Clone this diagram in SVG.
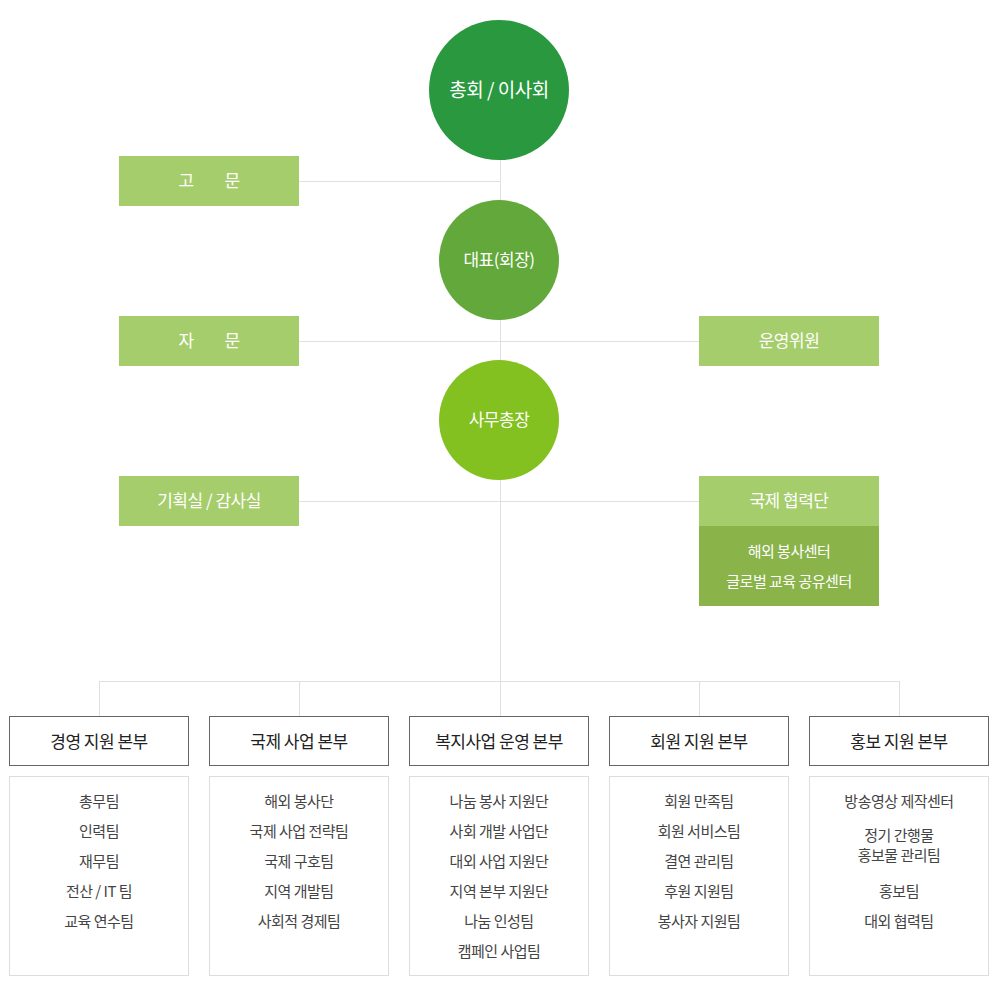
<svg xmlns="http://www.w3.org/2000/svg" width="1000" height="1000" viewBox="0 0 1000 1000">
<style>
text{font-family:"Noto Sans CJK KR","Noto Sans",sans-serif;text-anchor:middle;dominant-baseline:central;letter-spacing:-0.5px}
.w{fill:#fff}
.lt{fill:#a6cd6b}
.dk{fill:#8ab34a}
.ln{stroke:#e0e0e0;stroke-width:1;fill:none}
.hd{fill:#fff;stroke:#666;stroke-width:1}
.bd{fill:#fff;stroke:#ddd;stroke-width:1}
.ht{fill:#222;font-size:17px}
.it{fill:#444;font-size:15px}
.bt{fill:#fff;font-size:17px}
</style>
<g id="connectors">
<line class="ln" x1="500.5" y1="150" x2="500.5" y2="716"/>
<line class="ln" x1="299" y1="181.5" x2="500" y2="181.5"/>
<line class="ln" x1="299" y1="341.5" x2="699" y2="341.5"/>
<line class="ln" x1="299" y1="501.5" x2="699" y2="501.5"/>
<line class="ln" x1="99.5" y1="681.5" x2="899.5" y2="681.5"/>
<line class="ln" x1="99.5" y1="681" x2="99.5" y2="716"/>
<line class="ln" x1="299.5" y1="681" x2="299.5" y2="716"/>
<line class="ln" x1="699.5" y1="681" x2="699.5" y2="716"/>
<line class="ln" x1="899.5" y1="681" x2="899.5" y2="716"/>
</g>
<g id="n-general">
<circle cx="499" cy="90" r="70" fill="#2a983f"/>
<text class="w" x="499" y="88" font-size="19">총회 / 이사회</text>
</g>
<g id="n-ceo">
<circle cx="499" cy="260" r="60" fill="#62a83a"/>
<text class="w" x="499" y="258" font-size="17">대표(회장)</text>
</g>
<g id="n-sec">
<circle cx="499" cy="420" r="60" fill="#82c11f"/>
<text class="w" x="499" y="418" font-size="17">사무총장</text>
</g>
<g id="n-advisor">
<rect class="lt" x="119" y="156" width="180" height="50"/>
<text class="bt" x="186" y="179">고</text><text class="bt" x="232" y="179">문</text>
</g>
<g id="n-consult">
<rect class="lt" x="119" y="316" width="180" height="50"/>
<text class="bt" x="186" y="339">자</text><text class="bt" x="232" y="339">문</text>
</g>
<g id="n-plan">
<rect class="lt" x="119" y="476" width="180" height="50"/>
<text class="bt" x="209" y="499">기획실 / 감사실</text>
</g>
<g id="n-committee">
<rect class="lt" x="699" y="316" width="180" height="50"/>
<text class="bt" x="789" y="339">운영위원</text>
</g>
<g id="n-intl">
<rect class="lt" x="699" y="476" width="180" height="50"/>
<text class="bt" x="789" y="499">국제 협력단</text>
<rect class="dk" x="699" y="526" width="180" height="80"/>
<text class="w" x="789" y="550" font-size="15">해외 봉사센터</text>
<text class="w" x="789" y="580" font-size="15">글로벌 교육 공유센터</text>
</g>
<g id="n-d1">
<rect class="hd" x="9.5" y="716.5" width="179" height="49"/>
<text class="ht" x="99" y="740">경영 지원 본부</text>
<rect class="bd" x="9.5" y="776.5" width="179" height="199"/>
<text class="it" x="99" y="800">총무팀</text>
<text class="it" x="99" y="830">인력팀</text>
<text class="it" x="99" y="860">재무팀</text>
<text class="it" x="99" y="890">전산 / IT 팀</text>
<text class="it" x="99" y="920">교육 연수팀</text>
</g>
<g id="n-d2">
<rect class="hd" x="209.5" y="716.5" width="179" height="49"/>
<text class="ht" x="299" y="740">국제 사업 본부</text>
<rect class="bd" x="209.5" y="776.5" width="179" height="199"/>
<text class="it" x="299" y="800">해외 봉사단</text>
<text class="it" x="299" y="830">국제 사업 전략팀</text>
<text class="it" x="299" y="860">국제 구호팀</text>
<text class="it" x="299" y="890">지역 개발팀</text>
<text class="it" x="299" y="920">사회적 경제팀</text>
</g>
<g id="n-d3">
<rect class="hd" x="409.5" y="716.5" width="179" height="49"/>
<text class="ht" x="499" y="740">복지사업 운영 본부</text>
<rect class="bd" x="409.5" y="776.5" width="179" height="199"/>
<text class="it" x="499" y="800">나눔 봉사 지원단</text>
<text class="it" x="499" y="830">사회 개발 사업단</text>
<text class="it" x="499" y="860">대외 사업 지원단</text>
<text class="it" x="499" y="890">지역 본부 지원단</text>
<text class="it" x="499" y="920">나눔 인성팀</text>
<text class="it" x="499" y="950">캠페인 사업팀</text>
</g>
<g id="n-d4">
<rect class="hd" x="609.5" y="716.5" width="179" height="49"/>
<text class="ht" x="699" y="740">회원 지원 본부</text>
<rect class="bd" x="609.5" y="776.5" width="179" height="199"/>
<text class="it" x="699" y="800">회원 만족팀</text>
<text class="it" x="699" y="830">회원 서비스팀</text>
<text class="it" x="699" y="860">결연 관리팀</text>
<text class="it" x="699" y="890">후원 지원팀</text>
<text class="it" x="699" y="920">봉사자 지원팀</text>
</g>
<g id="n-d5">
<rect class="hd" x="809.5" y="716.5" width="179" height="49"/>
<text class="ht" x="899" y="740">홍보 지원 본부</text>
<rect class="bd" x="809.5" y="776.5" width="179" height="199"/>
<text class="it" x="899" y="800">방송영상 제작센터</text>
<text class="it" x="899" y="834">정기 간행물</text>
<text class="it" x="899" y="854">홍보물 관리팀</text>
<text class="it" x="899" y="890">홍보팀</text>
<text class="it" x="899" y="920">대외 협력팀</text>
</g>
</svg>
